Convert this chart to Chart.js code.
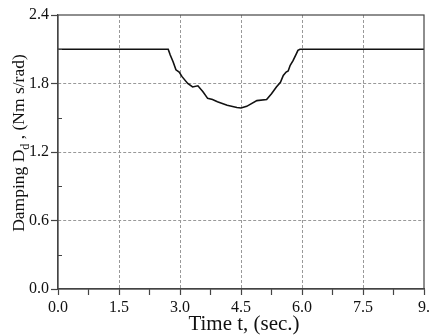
<!DOCTYPE html>
<html><head><meta charset="utf-8">
<script src="https://cdn.jsdelivr.net/npm/chart.js@4/dist/chart.umd.min.js"></script>
<style>html,body{margin:0;padding:0;background:#fff}#wrap{width:433px;height:336px}</style>
</head><body><div id="wrap"><canvas id="c" width="433" height="336"></canvas></div>
<script>
const timeValues = [0.0, 2.71, 2.76, 2.83, 2.90, 2.98, 3.05, 3.19, 3.31, 3.44, 3.56, 3.68, 3.80, 3.92, 4.16, 4.40, 4.50, 4.64, 4.89, 5.13, 5.25, 5.37, 5.47, 5.54, 5.61, 5.66, 5.71, 5.78, 5.86, 5.90, 5.95, 9.0];
const dampingValues = [2.10, 2.10, 2.05, 1.99, 1.92, 1.90, 1.86, 1.80, 1.77, 1.78, 1.73, 1.67, 1.66, 1.64, 1.61, 1.59, 1.585, 1.60, 1.65, 1.66, 1.71, 1.77, 1.81, 1.87, 1.90, 1.91, 1.96, 2.00, 2.06, 2.09, 2.10, 2.10];
const xTickLabels = ['0.0', '1.5', '3.0', '4.5', '6.0', '7.5', '9.'];
const yTickLabels = ['0.0', '0.6', '1.2', '1.8', '2.4'];
const yMinorTicks = [0.3, 0.9, 1.5, 2.1];
const xTitle = 'Time t, (sec.)';
const yTitleMain = 'Damping D';
const yTitleSub = 'd';
const yTitleRest = ' , (Nm s/rad)';

const FONT = '"Liberation Serif", "Times New Roman", serif';
const isMajor = (v, step) => Math.abs(v / step - Math.round(v / step)) < 1e-6;

const decor = {
  id: 'decor',
  afterDraw(chart) {
    const ctx = chart.ctx, a = chart.chartArea;
    const ys = chart.scales.y;
    ctx.save();
    ctx.strokeStyle = '#444';
    ctx.lineWidth = 1.2;
    ctx.strokeRect(a.left, a.top, a.right - a.left, a.bottom - a.top);
    // inward minor ticks on y axis
    ctx.beginPath();
    yMinorTicks.forEach(v => {
      const py = Math.round(ys.getPixelForValue(v)) + 0.5;
      ctx.moveTo(a.left, py);
      ctx.lineTo(a.left + 4, py);
    });
    ctx.stroke();
    ctx.fillStyle = '#111';
    ctx.font = '21px ' + FONT;
    ctx.textAlign = 'center';
    ctx.textBaseline = 'alphabetic';
    ctx.fillText(xTitle, (a.left + a.right) / 2 + 3, 330);
    // y title rotated with subscript
    ctx.translate(24, 143);
    ctx.rotate(-Math.PI / 2);
    ctx.font = '17.5px ' + FONT;
    const w1 = ctx.measureText(yTitleMain).width;
    const w3 = ctx.measureText(yTitleRest).width;
    ctx.font = '12px ' + FONT;
    const w2 = ctx.measureText(yTitleSub).width;
    let x = -(w1 + w2 + w3) / 2;
    ctx.textAlign = 'left';
    ctx.font = '17.5px ' + FONT;
    ctx.fillText(yTitleMain, x, 0); x += w1;
    ctx.font = '12px ' + FONT;
    ctx.fillText(yTitleSub, x, 5); x += w2;
    ctx.font = '17.5px ' + FONT;
    ctx.fillText(yTitleRest, x, 0);
    ctx.restore();
  }
};

new Chart(document.getElementById('c'), {
  type: 'line',
  data: {
    datasets: [{
      data: timeValues.map((t, i) => ({ x: t, y: dampingValues[i] })),
      borderColor: '#111',
      borderWidth: 1.6,
      pointRadius: 0,
      tension: 0,
      fill: false
    }]
  },
  options: {
    responsive: false,
    animation: false,
    devicePixelRatio: 1,
    layout: { padding: { top: 15, right: 3, left: 0, bottom: 0 } },
    plugins: { legend: { display: false }, tooltip: { enabled: false } },
    scales: {
      x: {
        type: 'linear', min: 0, max: 9,
        afterFit(s) { s.height = 47; },
        border: { display: true, color: '#444', width: 1.2, dash: [3, 2] },
        grid: {
          color: c => (c.tick && isMajor(c.tick.value, 1.5) && c.tick.value > 0 && c.tick.value < 9) ? '#999' : 'rgba(0,0,0,0)',
          lineWidth: 1,
          drawTicks: true,
          tickLength: 6,
          tickColor: '#444',
          tickBorderDash: [],
          tickWidth: 1.2
        },
        ticks: {
          stepSize: 0.75,
          autoSkip: false,
          maxRotation: 0,
          padding: 3,
          color: '#111',
          font: { family: FONT, size: 16 },
          callback: v => isMajor(v, 1.5) ? xTickLabels[Math.round(v / 1.5)] : ''
        }
      },
      y: {
        type: 'linear', min: 0, max: 2.4,
        afterFit(s) { s.width = 58; },
        border: { display: true, color: '#444', width: 1.2, dash: [3, 2] },
        grid: {
          color: c => (c.tick && isMajor(c.tick.value, 0.6) && c.tick.value > 0.01 && c.tick.value < 2.39) ? '#999' : 'rgba(0,0,0,0)',
          lineWidth: 1,
          drawTicks: true,
          tickLength: 7,
          tickColor: c => (c.tick && isMajor(c.tick.value, 0.6)) ? '#444' : 'rgba(0,0,0,0)',
          tickBorderDash: [],
          tickWidth: 1.2
        },
        ticks: {
          stepSize: 0.3,
          autoSkip: false,
          padding: 2,
          color: '#111',
          font: { family: FONT, size: 16 },
          callback: v => isMajor(v, 0.6) ? yTickLabels[Math.round(v / 0.6)] : ''
        }
      }
    }
  },
  plugins: [decor]
});
</script></body></html>
